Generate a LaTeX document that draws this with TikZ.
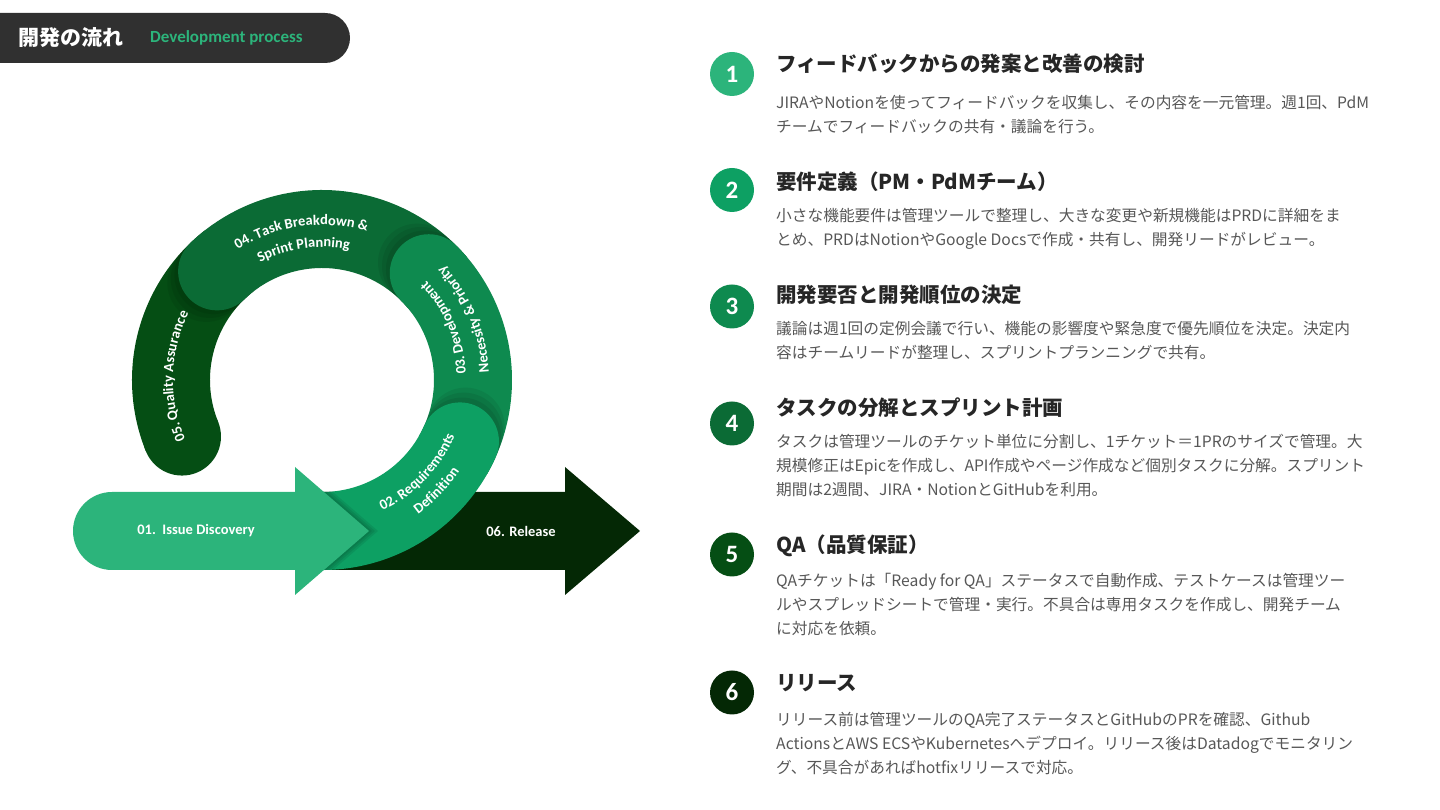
\documentclass[tikz,border=0pt]{standalone}
\usepackage{fontspec}
\newfontfamily\jpfont{Noto Sans CJK JP}
\newfontfamily\ringfont{Carlito}
\usetikzlibrary{positioning,decorations.text}

\definecolor{stepA}{HTML}{2CB47B}
\definecolor{stepB}{HTML}{0DA063}
\definecolor{stepC}{HTML}{0E8A4F}
\definecolor{stepD}{HTML}{0B6B35}
\definecolor{stepE}{HTML}{054E14}
\definecolor{stepF}{HTML}{042805}
\definecolor{barbg}{HTML}{303030}
\definecolor{headtext}{HTML}{262626}
\definecolor{bodytext}{HTML}{575757}

\newcommand\ringtxt{\ringfont\bfseries\fontsize{14.5}{17}\selectfont\color{white}}

\begin{document}
\begin{tikzpicture}[
  x=1pt, y=1pt,
  numdot/.style={circle, minimum size=44pt, inner sep=0pt, text=white, font=\ringfont\bfseries\fontsize{25}{25}\selectfont},
  stephead/.style={anchor=west, inner sep=0pt, text=headtext, font=\jpfont\bfseries\fontsize{20.5}{24}\selectfont},
  stepbody/.style={anchor=north west, inner sep=0pt, align=left, text=bodytext, font=\jpfont\fontsize{15.7}{24}\selectfont},
  band/.style={line width=78pt},
  flatlabel/.style={inner sep=0pt, font=\ringtxt},
  ringlabel/.style={decorate, decoration={text along path, text align=center, text={|\ringtxt|#1}}},
  ]
  \useasboundingbox (0,0) rectangle (1440,810);

  % title bar
  \fill[barbg, rounded corners=25pt] (-40,747) rectangle (350,797);
  \node[anchor=west, inner sep=0pt, text=white, font=\jpfont\bfseries\fontsize{21}{24}\selectfont] (title) at (18,772) {開発の流れ};
  \node[anchor=west, inner sep=0pt, text=stepA, font=\ringfont\bfseries\fontsize{17}{19}\selectfont] (subtitle) at (150,772) {Development process};

  \coordinate (ctr) at (322,430);

  % 06 release arrow, behind the ring
  \fill[stepF] (322,240) -- (565,240) -- (565,215) -- (640,279) -- (565,343) -- (565,318) -- (322,318) -- cycle;

  % ring segments, tail first
  \draw[band, stepE] (ctr) ++(128:151pt) arc[start angle=128, end angle=202, radius=151pt];
  \fill[stepE] (ctr) ++(202:151pt) circle[radius=39pt];
  \foreach \d in {2,4,6}
    \draw[band, black, opacity=.07, line cap=round] (ctr) ++(126:151pt) arc[start angle=126, end angle=134+\d, radius=151pt];
  \draw[band, stepD] (ctr) ++(40:151pt) arc[start angle=40, end angle=134, radius=151pt];
  \fill[stepD] (ctr) ++(134:151pt) circle[radius=39pt];
  \foreach \d in {2,4,6}
    \draw[band, black, opacity=.07, line cap=round] (ctr) ++(37:151pt) arc[start angle=37, end angle=45+\d, radius=151pt];
  \draw[band, stepC] (ctr) ++(-30:151pt) arc[start angle=-30, end angle=45, radius=151pt];
  \fill[stepC] (ctr) ++(45:151pt) circle[radius=39pt];
  \foreach \d in {2,4,6}
    \draw[band, black, opacity=.07, line cap=round] (ctr) ++(-32:151pt) arc[start angle=-32, end angle=-24+\d, radius=151pt];
  \draw[band, stepB] (ctr) ++(-100:151pt) arc[start angle=-100, end angle=-24, radius=151pt];
  \fill[stepB] (ctr) ++(-24:151pt) circle[radius=39pt];

  % shadow of the first arrow on the ring
  \begin{scope}
    \clip (ctr) ++(-110:190pt) arc[start angle=-110, end angle=-20, radius=190pt]
      -- ([shift={(-20:112pt)}]ctr) arc[start angle=-20, end angle=-110, radius=112pt] -- cycle;
    \foreach \s in {3,6,9}
      \fill[black, opacity=.08, xshift=\s] (295,215) -- (369,279) -- (295,343) -- cycle;
  \end{scope}

  % 01 arrow
  \fill[stepA] (112,240) -- (295,240) -- (295,215) -- (369,279) -- (295,343) -- (295,318) -- (112,318)
    arc[start angle=90, end angle=270, radius=39pt] -- cycle;

  \node[flatlabel] (lbl01) at (196,279) {01.\ \ Issue Discovery};
  \node[flatlabel] (lbl06) at (521,279) {06. Release};

  \path[ringlabel={02. Requirements}] (ctr) ++(-89:144pt) arc[start angle=-89, end angle=1, radius=144pt];
  \path[ringlabel={Definition}] (ctr) ++(-89:165pt) arc[start angle=-89, end angle=1, radius=165pt];
  \path[ringlabel={03. Development}] (ctr) ++(-22:144pt) arc[start angle=-22, end angle=68, radius=144pt];
  \path[ringlabel={Necessity {\&} Priority}] (ctr) ++(-22:167pt) arc[start angle=-22, end angle=68, radius=167pt];
  \path[ringlabel={04. Task Breakdown {\&}}] (ctr) ++(140:155pt) arc[start angle=140, end angle=56, radius=155pt];
  \path[ringlabel={Sprint Planning}] (ctr) ++(140:133pt) arc[start angle=140, end angle=56, radius=133pt];
  \path[ringlabel={05. Quality Assurance}] (ctr) ++(223:149pt) arc[start angle=223, end angle=134, radius=149pt];

  % steps on the right
  \node[numdot, fill=stepA] (n1) at (732,736) {1};
  \node[stephead] (h1) at (776,746) {フィードバックからの発案と改善の検討};
  \node[stepbody] (b1) at (776,715) {JIRAやNotionを使ってフィードバックを収集し、その内容を一元管理。週1回、PdM\\チームでフィードバックの共有・議論を行う。};

  \node[numdot, fill=stepB] (n2) at (732,620) {2};
  \node[stephead] (h2) at (776,628) {要件定義（PM・PdMチーム）};
  \node[stepbody] (b2) at (776,602) {小さな機能要件は管理ツールで整理し、大きな変更や新規機能はPRDに詳細をま\\とめ、PRDはNotionやGoogle Docsで作成・共有し、開発リードがレビュー。};

  \node[numdot, fill=stepC] (n3) at (732,503.5) {3};
  \node[stephead] (h3) at (776,515) {開発要否と開発順位の決定};
  \node[stepbody] (b3) at (776,489) {議論は週1回の定例会議で行い、機能の影響度や緊急度で優先順位を決定。決定内\\容はチームリードが整理し、スプリントプランニングで共有。};

  \node[numdot, fill=stepD] (n4) at (732,386.5) {4};
  \node[stephead] (h4) at (776,402) {タスクの分解とスプリント計画};
  \node[stepbody] (b4) at (776,376) {タスクは管理ツールのチケット単位に分割し、1チケット＝1PRのサイズで管理。大\\規模修正はEpicを作成し、API作成やページ作成など個別タスクに分解。スプリント\\期間は2週間、JIRA・NotionとGitHubを利用。};

  \node[numdot, fill=stepE] (n5) at (732,255.5) {5};
  \node[stephead] (h5) at (776,264) {QA（品質保証）};
  \node[stepbody] (b5) at (776,237) {QAチケットは「Ready for QA」ステータスで自動作成、テストケースは管理ツー\\ルやスプレッドシートで管理・実行。不具合は専用タスクを作成し、開発チーム\\に対応を依頼。};

  \node[numdot, fill=stepF] (n6) at (732,117.5) {6};
  \node[stephead] (h6) at (776,127) {リリース};
  \node[stepbody] (b6) at (776,98) {リリース前は管理ツールのQA完了ステータスとGitHubのPRを確認、Github\\ActionsとAWS ECSやKubernetesへデプロイ。リリース後はDatadogでモニタリン\\グ、不具合があればhotfixリリースで対応。};
\end{tikzpicture}
\end{document}
